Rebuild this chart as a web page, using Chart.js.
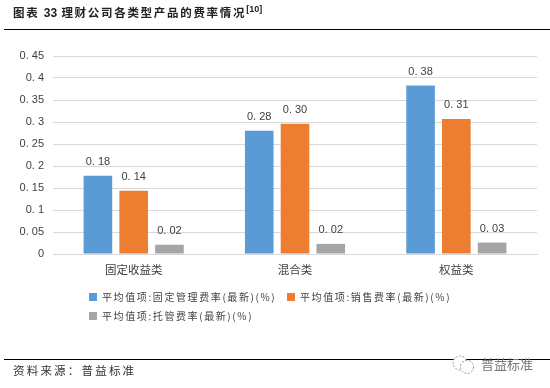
<!DOCTYPE html>
<html>
<head>
  <meta charset="utf-8">
  <title>理财公司各类型产品的费率情况</title>
  <script src="https://cdn.jsdelivr.net/npm/chart.js"></script>
  <style>
    html, body { margin: 0; padding: 0; background: #fff; }
    #wrap { position: relative; width: 550px; height: 388px; overflow: hidden; font-family: "Noto Sans CJK SC", sans-serif; }
    #priceChart { position: absolute; left: 0; top: 0; }
    .rule { position: absolute; left: 4px; right: 0; height: 1px; background: #000; }
    #title { position: absolute; left: 13px; top: 3px; font-size: 11.5px; font-weight: 700; line-height: 18px; color: #222; letter-spacing: 1.7px; white-space: nowrap; }
    #title b { font-family: "Liberation Sans"; font-size: 12px; letter-spacing: 0; }
    #title sup { font-family: "Liberation Sans"; font-size: 9px; line-height: 0; letter-spacing: 0; }
    #source { position: absolute; left: 13px; top: 361px; font-size: 11.5px; line-height: 18px; color: #333; letter-spacing: 2.2px; white-space: nowrap; }
    #mark { position: absolute; left: 481px; top: 355px; font-size: 13px; line-height: 18px; color: #777; white-space: nowrap; }
    #legend div { position: absolute; font-size: 10px; line-height: 14px; color: #404040; letter-spacing: 1.6px; white-space: nowrap; }
    #legend i { position: absolute; width: 8px; height: 8px; }
  </style>
</head>
<body>
  <div id="wrap">
    <canvas id="priceChart" width="550" height="388"></canvas>
    <div class="rule" style="top:29px"></div>
    <div class="rule" style="top:359px"></div>
    <div id="title">图表 <b>33</b> 理财公司各类型产品的费率情况<sup>[10]</sup></div>
    <div id="source">资料来源：普益标准</div>
    <svg style="position:absolute;left:451px;top:354px" width="26" height="22">
      <circle cx="9" cy="9" r="7" fill="#fff" stroke="#999" stroke-dasharray="2 1.5"/>
      <circle cx="16" cy="13" r="6.5" fill="#fff" stroke="#999" stroke-dasharray="2 1.5"/>
    </svg>
    <div id="mark">普益标准</div>
    <div id="legend"></div>
  </div>
  <script>
    // 数据
    var categories = ['固定收益类', '混合类', '权益类'];
    var seriesNames = ['平均值项:固定管理费率(最新)(%)', '平均值项:销售费率(最新)(%)', '平均值项:托管费率(最新)(%)'];
    var fixedFee = [0.178, 0.28, 0.383];
    var salesFee = [0.144, 0.296, 0.307];
    var custodyFee = [0.021, 0.023, 0.026];
    var colors = ['#5b9bd5', '#ed7d31', '#a5a5a5'];

    function spaced(v) {
      return String(v).replace('.', '. ');
    }

    // 柱顶数值标签
    var barLabels = {
      id: 'barLabels',
      afterDatasetsDraw: function (chart) {
        var ctx = chart.ctx;
        ctx.save();
        ctx.font = '11px "Liberation Sans"';
        ctx.fillStyle = '#404040';
        ctx.textAlign = 'center';
        ctx.textBaseline = 'middle';
        chart.data.datasets.forEach(function (ds, i) {
          chart.getDatasetMeta(i).data.forEach(function (bar, j) {
            ctx.fillText(spaced(ds.data[j].toFixed(2)), bar.x, bar.y - 14);
          });
        });
        ctx.restore();
      }
    };

    var chart = new Chart(document.getElementById('priceChart').getContext('2d'), {
      type: 'bar',
      data: {
        labels: categories,
        datasets: [
          { label: seriesNames[0], data: fixedFee, backgroundColor: colors[0] },
          { label: seriesNames[1], data: salesFee, backgroundColor: colors[1] },
          { label: seriesNames[2], data: custodyFee, backgroundColor: colors[2] }
        ]
      },
      options: {
        responsive: false,
        animation: false,
        categoryPercentage: 0.665,
        barPercentage: 0.8,
        layout: { padding: { top: 56, right: 13 } },
        plugins: { legend: { display: false }, tooltip: { enabled: false } },
        scales: {
          x: {
            afterFit: function (s) { s.height = 134; },
            grid: { display: false },
            border: { color: '#d9d9d9' },
            ticks: { color: '#404040', padding: 1, font: { family: '"Noto Sans CJK SC"', size: 11.5 } }
          },
          y: {
            min: 0,
            max: 0.45,
            afterFit: function (s) { s.width = 53; },
            grid: { color: '#d9d9d9', drawTicks: false },
            border: { display: false },
            ticks: {
              stepSize: 0.05,
              padding: 9,
              color: '#404040',
              font: { family: '"Liberation Sans"', size: 11 },
              callback: function (v) { return spaced(+v.toFixed(2)); }
            }
          }
        }
      },
      plugins: [barLabels]
    });

    // 图例
    var legendPos = [[89, 290], [287, 290], [89, 309]];
    var legend = document.getElementById('legend');
    seriesNames.forEach(function (name, i) {
      var item = document.createElement('div');
      item.style.left = legendPos[i][0] + 13 + 'px';
      item.style.top = legendPos[i][1] + 'px';
      item.textContent = name;
      var box = document.createElement('i');
      box.style.left = '-13px';
      box.style.top = '3px';
      box.style.background = colors[i];
      item.appendChild(box);
      legend.appendChild(item);
    });
  </script>
</body>
</html>
